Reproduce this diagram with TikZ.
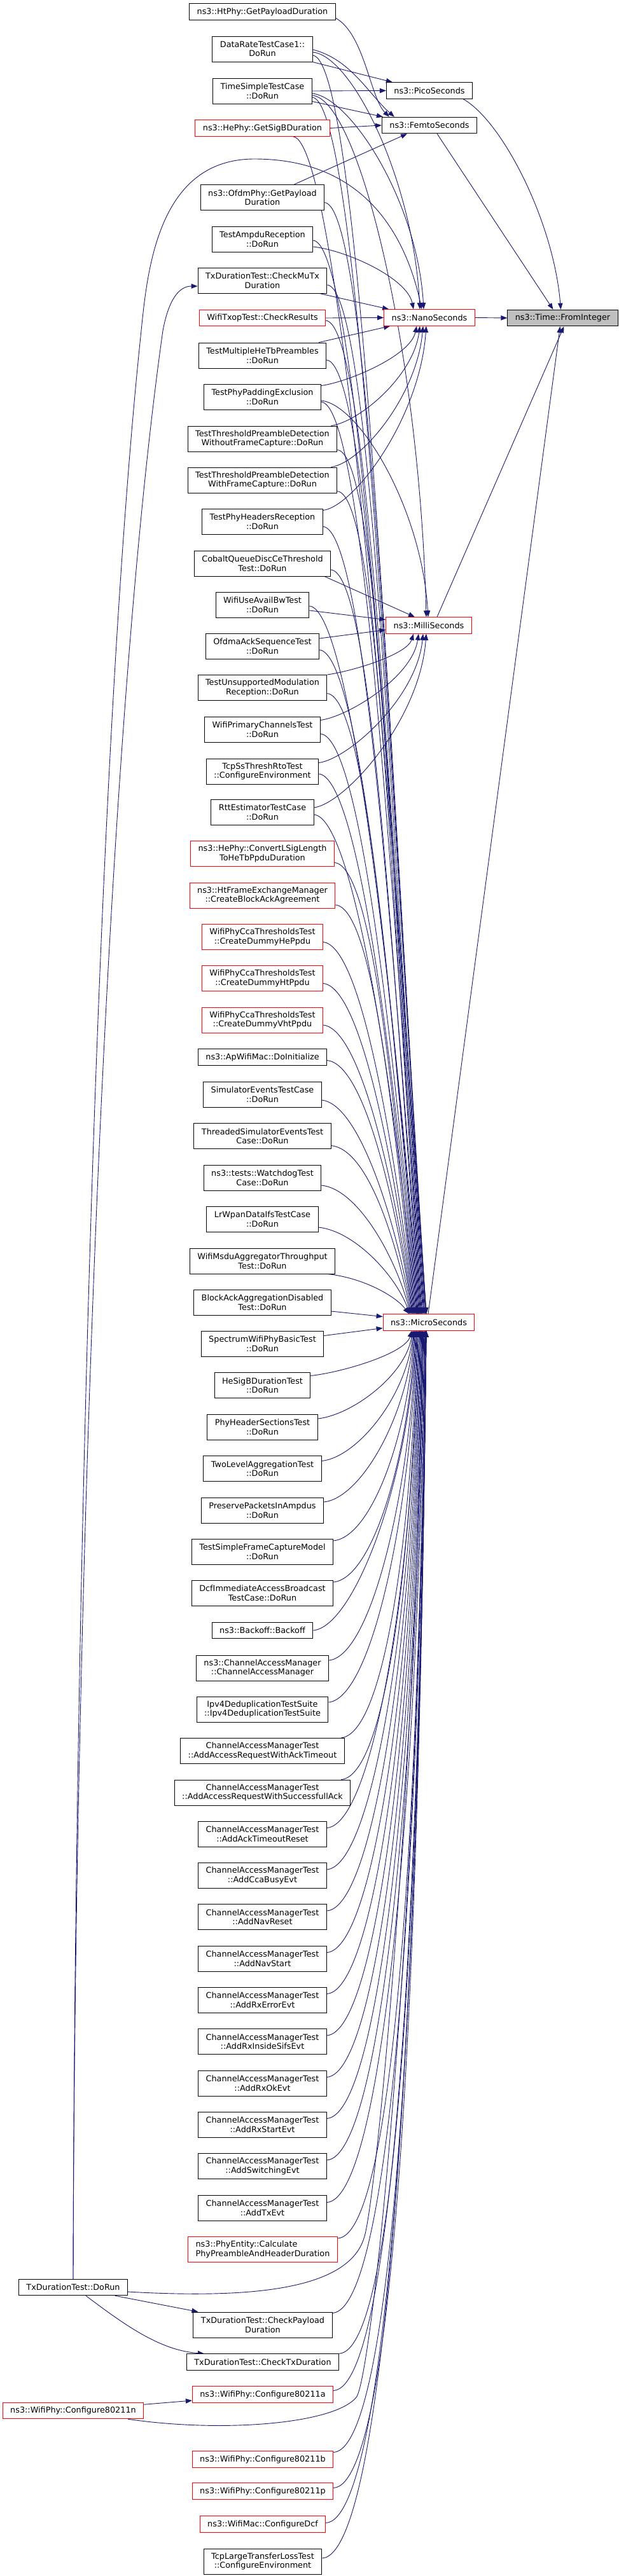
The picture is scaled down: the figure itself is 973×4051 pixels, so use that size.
\documentclass[tikz,border=0pt]{standalone}
\usepackage{fontspec}
\setmainfont{DejaVu Sans}
\usetikzlibrary{arrows.meta,calc}
\definecolor{edgeblue}{HTML}{191970}
\definecolor{hlred}{HTML}{FF0000}
\definecolor{fromgrey}{HTML}{BFBFBF}
\pgfdeclarelayer{edges}
\pgfsetlayers{edges,main}
\tikzset{
  box/.style={draw=black, line width=1pt, fill=white, inner xsep=12pt, inner ysep=0pt,
    minimum height=25.5pt, align=center, font=\fontsize{12.8}{14.5}\selectfont},
  two/.style={minimum height=40pt},
  rbox/.style={box, draw=hlred},
  callarrow/.style={draw=edgeblue, line width=0.9pt, -{Triangle[length=10pt,width=7.5pt]}},
}
\newcommand\dnedge[2]{%
  \draw[callarrow] let \p1=(#1), \p2=(#2), \n1={\y1-\y2} in
    (\p1) .. controls ($(\p1)+({50+0.03*\n1},-6)$) and ($(\p2)+(-10,{0.5*\n1})$) .. (\p2);}
\newcommand\upedge[2]{%
  \draw[callarrow] let \p1=(#1), \p2=(#2), \n1={\y2-\y1} in
    (\p1) .. controls ($(\p1)+({40+0.03*\n1},6)$) and ($(\p2)+(-10,{-0.5*\n1})$) .. (\p2);}
\newcommand\mabove[1]{%
  \draw[callarrow] let \p1=(#1), \p3=(micro.north),
    \n1={\y1-\y3}, \n2={min(28,0.016*\n1)}, \n3={min(38,0.02*\n1)} in
    (\p1) .. controls ($(\p1)+({55+0.01*\n1},-6)$) and ($(\p3)+({\n2-52-\n3},{0.45*\n1})$) .. ($(\p3)+({\n2-32},0)$);}
\newcommand\mbelow[1]{%
  \draw[callarrow] let \p1=(#1), \p3=(micro.south),
    \n1={\y3-\y1}, \n2={min(24,0.016*\n1)} in
    (\p1) .. controls ($(\p1)+({50+0.03*\n1},6)$) and ($(\p3)+({\n2-38},{-0.5*\n1})$) .. ($(\p3)+({\n2-28},0)$);}
\begin{document}
\begin{tikzpicture}[x=1pt,y=1pt]
\useasboundingbox (0,0) rectangle (973,-4051);
% ---------- left column ----------
\node[box] (htpay) at (412.5,-18.5) {ns3::HtPhy::GetPayloadDuration};
\node[box,two] (datarate) at (412.5,-77) {DataRateTestCase1::\\DoRun};
\node[box,two] (timesimple) at (412.5,-143) {TimeSimpleTestCase\\::DoRun};
\node[rbox] (hesigb) at (412.5,-201.5) {ns3::HePhy::GetSigBDuration};
\node[box,two] (ofdmpay) at (412.5,-310.5) {ns3::OfdmPhy::GetPayload\\Duration};
\node[box,two] (ampdu) at (412.5,-376) {TestAmpduReception\\::DoRun};
\node[box,two] (mutx) at (412.5,-441) {TxDurationTest::CheckMuTx\\Duration};
\node[rbox] (txop) at (412.5,-500) {WifiTxopTest::CheckResults};
\node[box,two] (multihetb) at (412.5,-559) {TestMultipleHeTbPreambles\\::DoRun};
\node[box,two] (padding) at (412.5,-624) {TestPhyPaddingExclusion\\::DoRun};
\node[box,two] (thrwo) at (412.5,-690) {TestThresholdPreambleDetection\\WithoutFrameCapture::DoRun};
\node[box,two] (thrw) at (412.5,-755) {TestThresholdPreambleDetection\\WithFrameCapture::DoRun};
\node[box,two] (phyhdr) at (412.5,-820) {TestPhyHeadersReception\\::DoRun};
\node[box,two] (cobalt) at (412.5,-886) {CobaltQueueDiscCeThreshold\\Test::DoRun};
\node[box,two] (availbw) at (412.5,-951) {WifiUseAvailBwTest\\::DoRun};
\node[box,two] (ofdmaack) at (412.5,-1016) {OfdmaAckSequenceTest\\::DoRun};
\node[box,two] (unsupp) at (412.5,-1081.5) {TestUnsupportedModulation\\Reception::DoRun};
\node[box,two] (primary) at (412.5,-1147) {WifiPrimaryChannelsTest\\::DoRun};
\node[box,two] (tcpss) at (412.5,-1213) {TcpSsThreshRtoTest\\::ConfigureEnvironment};
\node[box,two] (rtt) at (412.5,-1277) {RttEstimatorTestCase\\::DoRun};
\node[rbox,two] (lsig) at (412.5,-1342.5) {ns3::HePhy::ConvertLSigLength\\ToHeTbPpduDuration};
\node[rbox,two] (htfem) at (412.5,-1408) {ns3::HtFrameExchangeManager\\::CreateBlockAckAgreement};
\node[rbox,two] (ccahe) at (412.5,-1473.5) {WifiPhyCcaThresholdsTest\\::CreateDummyHePpdu};
\node[rbox,two] (ccaht) at (412.5,-1538.5) {WifiPhyCcaThresholdsTest\\::CreateDummyHtPpdu};
\node[rbox,two] (ccavht) at (412.5,-1604) {WifiPhyCcaThresholdsTest\\::CreateDummyVhtPpdu};
\node[box] (apwifi) at (412.5,-1662.5) {ns3::ApWifiMac::DoInitialize};
\node[box,two] (simev) at (412.5,-1721) {SimulatorEventsTestCase\\::DoRun};
\node[box,two] (threaded) at (412.5,-1786.5) {ThreadedSimulatorEventsTest\\Case::DoRun};
\node[box,two] (watchdog) at (412.5,-1852) {ns3::tests::WatchdogTest\\Case::DoRun};
\node[box,two] (lrwpan) at (412.5,-1917) {LrWpanDataIfsTestCase\\::DoRun};
\node[box,two] (msdu) at (412.5,-1983) {WifiMsduAggregatorThroughput\\Test::DoRun};
\node[box,two] (blockack) at (412.5,-2048) {BlockAckAggregationDisabled\\Test::DoRun};
\node[box,two] (spectrum) at (412.5,-2113) {SpectrumWifiPhyBasicTest\\::DoRun};
\node[box,two] (hesigbt) at (412.5,-2178.5) {HeSigBDurationTest\\::DoRun};
\node[box,two] (phyhdrsec) at (412.5,-2244) {PhyHeaderSectionsTest\\::DoRun};
\node[box,two] (twolevel) at (412.5,-2309.5) {TwoLevelAggregationTest\\::DoRun};
\node[box,two] (preserve) at (412.5,-2375) {PreservePacketsInAmpdus\\::DoRun};
\node[box,two] (simplefc) at (412.5,-2440) {TestSimpleFrameCaptureModel\\::DoRun};
\node[box,two] (dcf) at (412.5,-2505) {DcfImmediateAccessBroadcast\\TestCase::DoRun};
\node[box] (backoff) at (412.5,-2564) {ns3::Backoff::Backoff};
\node[box,two] (cam) at (412.5,-2623) {ns3::ChannelAccessManager\\::ChannelAccessManager};
\node[box,two] (ipv4) at (412.5,-2688) {Ipv4DeduplicationTestSuite\\::Ipv4DeduplicationTestSuite};
\node[box,two] (camt1) at (412.5,-2753.5) {ChannelAccessManagerTest\\::AddAccessRequestWithAckTimeout};
\node[box,two] (camt2) at (412.5,-2819) {ChannelAccessManagerTest\\::AddAccessRequestWithSuccessfullAck};
\node[box,two] (camt3) at (412.5,-2884) {ChannelAccessManagerTest\\::AddAckTimeoutReset};
\node[box,two] (camt4) at (412.5,-2949.5) {ChannelAccessManagerTest\\::AddCcaBusyEvt};
\node[box,two] (camt5) at (412.5,-3014.5) {ChannelAccessManagerTest\\::AddNavReset};
\node[box,two] (camt6) at (412.5,-3080) {ChannelAccessManagerTest\\::AddNavStart};
\node[box,two] (camt7) at (412.5,-3145) {ChannelAccessManagerTest\\::AddRxErrorEvt};
\node[box,two] (camt8) at (412.5,-3210.5) {ChannelAccessManagerTest\\::AddRxInsideSifsEvt};
\node[box,two] (camt9) at (412.5,-3276) {ChannelAccessManagerTest\\::AddRxOkEvt};
\node[box,two] (camt10) at (412.5,-3341) {ChannelAccessManagerTest\\::AddRxStartEvt};
\node[box,two] (camt11) at (412.5,-3406.5) {ChannelAccessManagerTest\\::AddSwitchingEvt};
\node[box,two] (camt12) at (412.5,-3472) {ChannelAccessManagerTest\\::AddTxEvt};
\node[rbox,two,align=left] (phyentity) at (413,-3537.5) {ns3::PhyEntity::Calculate\\PhyPreambleAndHeaderDuration};
\node[box] (txdorun) at (115,-3597) {TxDurationTest::DoRun};
\node[box,two] (checkpay) at (413,-3656) {TxDurationTest::CheckPayload\\Duration};
\node[box] (checktx) at (413,-3714.5) {TxDurationTest::CheckTxDuration};
\node[rbox] (c11a) at (413,-3765.5) {ns3::WifiPhy::Configure80211a};
\node[rbox] (c11n) at (115,-3791) {ns3::WifiPhy::Configure80211n};
\node[rbox] (c11b) at (413,-3867.5) {ns3::WifiPhy::Configure80211b};
\node[rbox] (c11p) at (413,-3917.5) {ns3::WifiPhy::Configure80211p};
\node[rbox] (cdcf) at (413,-3969.5) {ns3::WifiMac::ConfigureDcf};
\node[box,two] (tcplarge) at (413,-4028) {TcpLargeTransferLossTest\\::ConfigureEnvironment};
% ---------- middle and right ----------
\node[box] (pico) at (675,-142.5) {ns3::PicoSeconds};
\node[box] (femto) at (675,-197) {ns3::FemtoSeconds};
\node[rbox] (nano) at (675,-499.5) {ns3::NanoSeconds};
\node[rbox] (milli) at (674,-983.5) {ns3::MilliSeconds};
\node[rbox] (micro) at (674,-2079.5) {ns3::MicroSeconds};
\node[box,fill=fromgrey] (fromint) at (884.5,-500) {ns3::Time::FromInteger};
\begin{pgfonlayer}{edges}
\fill[white] (0,0) rectangle (973,-4051);
% to FromInteger
\draw[callarrow] ($(pico.south east)+(-15,0)$) .. controls +(62,-35) and +(-11,137) .. ($(fromint.north)+(-3,0)$);
\draw[callarrow] ($(femto.south)+(12,0)$) -- ($(fromint.north)+(-15,0)$);
\draw[callarrow] (nano.east) -- (fromint.west);
\draw[callarrow] ($(milli.north)+(13,0)$) -- ($(fromint.south)+(2,0)$);
\draw[callarrow] ($(micro.north)+(-1,0)$) -- ($(fromint.south)+(-4,0)$);
% to PicoSeconds / FemtoSeconds
\draw[callarrow] (datarate.south east) -- ($(pico.north west)+(10,0)$);
\draw[callarrow] (timesimple.east) -- (pico.west);
\draw[callarrow] ($(timesimple.south east)+(0,4)$) -- ($(femto.north west)+(2,0)$);
\draw[callarrow] (hesigb.east) -- (femto.west);
\draw[callarrow] ($(ofdmpay.north)+(50,0)$) -- ($(femto.south)+(-35,0)$);
\draw[callarrow] ($(htpay.east)+(0,-10)$) .. controls +(45,-25) and +(-30,30) .. ($(femto.north west)+(12,0)$);
\draw[callarrow] ($(datarate.east)+(0,-1)$) .. controls +(60,-15) and +(-40,35) .. ($(femto.north west)+(20,0)$);
% to NanoSeconds
\dnedge{$(datarate.east)+(0,-5)$}{$(nano.north)+(-15,0)$}
\dnedge{$(timesimple.east)+(0,-4)$}{$(nano.north)+(-9,0)$}
\dnedge{$(ampdu.east)+(0,-12)$}{$(nano.north)+(-25,0)$}
\draw[callarrow] ($(mutx.south east)+(-12,0)$) -- ($(nano.north west)+(8,0)$);
\draw[callarrow] (txop.east) -- (nano.west);
\draw[callarrow] ($(multihetb.north east)+(-12,0)$) -- ($(nano.south west)+(10,0)$);
\upedge{$(padding.north east)+(0,-3)$}{$(nano.south)+(-20,0)$}
\upedge{$(thrwo.north east)+(-10,0)$}{$(nano.south)+(-15,0)$}
\upedge{$(thrw.north east)+(-10,0)$}{$(nano.south)+(-10,0)$}
\upedge{$(phyhdr.north east)+(0,-3)$}{$(nano.south)+(-5,0)$}
% to MilliSeconds
\dnedge{$(timesimple.east)+(0,-7)$}{$(milli.north)+(-4,0)$}
\dnedge{$(padding.east)+(0,-6)$}{$(milli.north)+(-1,0)$}
\draw[callarrow] ($(cobalt.south east)+(-10,0)$) -- ($(milli.north)+(-22,0)$);
\draw[callarrow] ($(availbw.east)+(0,-9)$) -- ($(milli.west)+(0,9)$);
\draw[callarrow] ($(ofdmaack.east)+(0,12)$) -- ($(milli.west)+(0,-7)$);
\upedge{unsupp.north east}{$(milli.south)+(-24,0)$}
\upedge{$(primary.north east)+(0,-6)$}{$(milli.south)+(-16,0)$}
\upedge{$(tcpss.north east)+(0,-7)$}{$(milli.south)+(-9,0)$}
\upedge{$(rtt.east)+(0,7)$}{$(milli.south)+(-4,0)$}
% to MicroSeconds from above
\mabove{$(datarate.east)+(0,-10)$}
\mabove{$(timesimple.east)+(0,-10)$}
\mabove{$(hesigb.south)+(48,0)$}
\mabove{$(ofdmpay.east)+(0,-8)$}
\mabove{$(ampdu.east)+(0,-2)$}
\mabove{$(mutx.east)+(0,-7)$}
\mabove{$(txop.east)+(0,-4)$}
\mabove{$(multihetb.east)+(0,-7)$}
\mabove{$(padding.east)+(0,-8)$}
\mabove{$(thrwo.south east)+(0,3)$}
\mabove{$(thrw.south east)+(0,3)$}
\mabove{$(phyhdr.east)+(0,-8)$}
\mabove{$(cobalt.east)+(0,-10)$}
\mabove{$(availbw.east)+(0,-2)$}
\mabove{$(ofdmaack.east)+(0,-6)$}
\mabove{$(unsupp.east)+(0,-9)$}
\mabove{$(primary.east)+(0,-7)$}
\mabove{$(tcpss.east)+(0,-4)$}
\mabove{$(rtt.east)+(0,-4)$}
\mabove{$(lsig.east)+(0,-14)$}
\mabove{$(htfem.east)+(0,-15)$}
\mabove{$(ccahe.east)+(0,-8)$}
\mabove{$(ccaht.east)+(0,-8)$}
\mabove{$(ccavht.east)+(0,-8)$}
\mabove{$(apwifi.east)+(0,-5)$}
\mabove{$(simev.east)+(0,-9)$}
\mabove{$(threaded.east)+(0,-15)$}
\mabove{$(watchdog.east)+(0,-12)$}
\mabove{$(lrwpan.east)+(0,-13)$}
\mabove{$(msdu.south east)+(-12,0)$}
\draw[callarrow] ($(blockack.east)+(0,-14)$) -- ($(micro.west)+(0,9)$);
\draw[callarrow] ($(spectrum.east)+(0,12.5)$) -- ($(micro.west)+(0,-9)$);
% to MicroSeconds from below
\mbelow{$(hesigbt.east)+(0,15)$}
\mbelow{$(phyhdrsec.east)+(0,13)$}
\mbelow{$(twolevel.east)+(0,12)$}
\mbelow{$(preserve.east)+(0,13)$}
\mbelow{$(simplefc.east)+(0,17)$}
\mbelow{$(dcf.east)+(0,17)$}
\mbelow{backoff.east}
\mbelow{$(cam.east)+(0,12)$}
\mbelow{$(ipv4.east)+(0,11)$}
\mbelow{$(camt1.north east)+(-6,0)$}
\mbelow{$(camt2.north east)+(-15,0)$}
\foreach \i in {3,...,11} {\mbelow{$(camt\i.east)+(0,9.5)$}}
\mbelow{$(camt12.east)+(0,8.5)$}
\mbelow{$(phyentity.north east)+(0,-3)$}
\mbelow{$(checkpay.north east)+(0,-2)$}
\mbelow{checktx.north east}
\mbelow{$(c11a.east)+(0,6)$}
\mbelow{$(c11b.east)+(0,11)$}
\mbelow{$(c11p.east)+(0,5)$}
\mbelow{$(cdcf.east)+(0,2)$}
\mbelow{$(tcplarge.east)+(0,5)$}
% TxDurationTest::DoRun
\draw[callarrow] (txdorun.north) .. controls (117,-2600) and (160,-1200) .. (256,-520)
  .. controls (266,-466) and (284,-450) .. ($(mutx.west)+(0,-9)$);
\draw[callarrow] (txdorun.north) .. controls (117,-2600) and (150,-1200) .. (222,-520)
  .. controls (232,-420) and (250,-250) .. (400,-250)
  .. controls (580,-250) and (640,-380) .. ($(nano.north)+(-12,0)$);
\draw[callarrow] ($(txdorun.east)+(0,-7)$) .. controls (380,-3614) and (545,-3605) .. (572,-3520)
  .. controls (590,-3473) and (655,-2800) .. ($(micro.south)+(-10,0)$);
\draw[callarrow] ($(txdorun.south east)+(-20,0)$) -- ($(checkpay.north west)+(8,0)$);
\draw[callarrow] ($(txdorun.south)+(20,0)$) .. controls +(60,-45) and +(-70,5) .. ($(checktx.north west)+(28,0)$);
% Configure80211n
\draw[callarrow] ($(c11n.north east)+(0,-3.5)$) -- ($(c11a.west)+(0,-9.5)$);
\draw[callarrow] ($(c11n.south east)+(-25,0)$) .. controls (350,-3826) and (525,-3812) .. (560,-3770)
  .. controls (585,-3740) and (662,-3000) .. ($(micro.south)+(-6,0)$);
\end{pgfonlayer}
\end{tikzpicture}
\end{document}
